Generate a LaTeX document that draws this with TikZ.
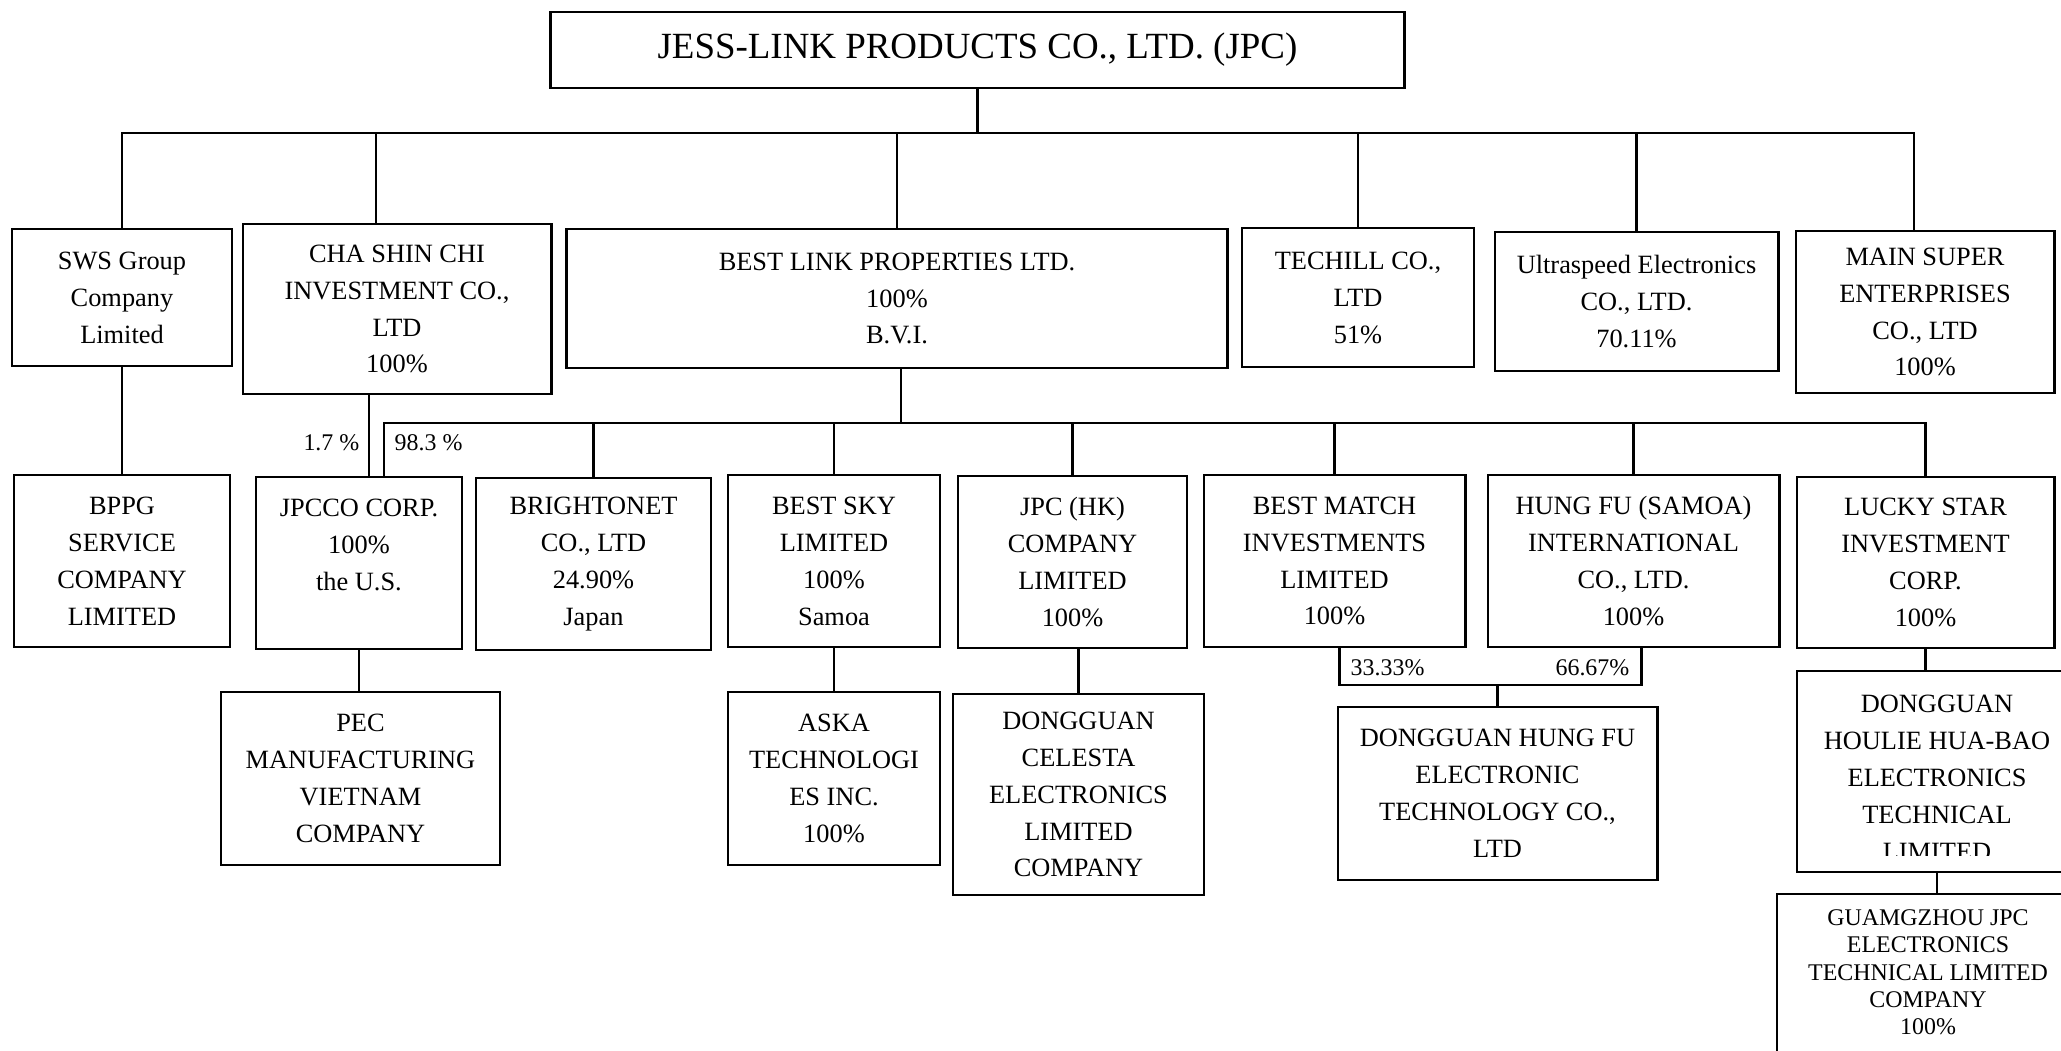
\documentclass[tikz,border=0pt]{standalone}
\usepackage{fontspec}
\setmainfont{Liberation Serif}
\usetikzlibrary{calc, positioning}

\begin{document}
\begin{tikzpicture}[
    x=0.01cm, y=-0.01cm,
    % Styles for the group chart
    firm/.style={draw=black, line width=0.8pt, inner sep=0pt, outer sep=0pt, align=center, font=\fontsize{7.5}{10.5}\selectfont},
    share/.style={inner sep=0pt, font=\fontsize{6.8}{8}\selectfont},
    link/.style={draw=black, line width=0.6pt}
]
    \useasboundingbox (0,0) rectangle (2061,1050);
    \clip (0,0) rectangle (2061,1050);

    % 1. The parent company
    \node[firm, minimum width=8.53cm, minimum height=0.76cm, font=\fontsize{10.5}{12}\selectfont] (jpc) at (977.5,50) {JESS-LINK PRODUCTS CO., LTD. (JPC)};

    % 2. First level subsidiaries
    \node[firm, minimum width=2.2cm, minimum height=1.37cm] (sws) at (122,297.5) {SWS Group\\Company\\Limited};
    \node[firm, minimum width=3.08cm, minimum height=1.70cm] (cha) at (397,309) {CHA SHIN CHI\\INVESTMENT CO.,\\LTD\\100\%};
    \node[firm, minimum width=6.60cm, minimum height=1.39cm] (bestlink) at (897,298.5) {BEST LINK PROPERTIES LTD.\\100\%\\B.V.I.};
    \node[firm, minimum width=2.32cm, minimum height=1.39cm] (techill) at (1358,297.5) {TECHILL CO.,\\LTD\\51\%};
    \node[firm, minimum width=2.83cm, minimum height=1.39cm] (ultra) at (1636.5,301.5) {Ultraspeed Electronics\\CO., LTD.\\70.11\%};
    \node[firm, minimum width=2.58cm, minimum height=1.62cm] (main) at (1925,312) {MAIN SUPER\\ENTERPRISES\\CO., LTD\\100\%};

    % 3. Second level
    \node[firm, minimum width=2.16cm, minimum height=1.72cm] (bppg) at (122,561) {BPPG\\SERVICE\\COMPANY\\LIMITED};
    \node[firm, minimum width=2.06cm, minimum height=1.72cm] (jpcco) at (359,563) {JPCCO CORP.\\100\%\\the U.S.\\~};
    \node[firm, minimum width=2.35cm, minimum height=1.72cm] (brightonet) at (593.5,564) {BRIGHTONET\\CO., LTD\\24.90\%\\Japan};
    \node[firm, minimum width=2.12cm, minimum height=1.72cm] (bestsky) at (834,561) {BEST SKY\\LIMITED\\100\%\\Samoa};
    \node[firm, minimum width=2.29cm, minimum height=1.72cm] (jpchk) at (1072.5,562) {JPC (HK)\\COMPANY\\LIMITED\\100\%};
    \node[firm, minimum width=2.61cm, minimum height=1.72cm] (bestmatch) at (1334.5,561) {BEST MATCH\\INVESTMENTS\\LIMITED\\100\%};
    \node[firm, minimum width=2.91cm, minimum height=1.72cm] (hungfu) at (1633.5,561) {HUNG FU (SAMOA)\\INTERNATIONAL\\CO., LTD.\\100\%};
    \node[firm, minimum width=2.57cm, minimum height=1.71cm] (lucky) at (1925.5,562.5) {LUCKY STAR\\INVESTMENT\\CORP.\\100\%};

    % 4. Third level
    \node[firm, minimum width=2.79cm, minimum height=1.73cm] (pec) at (360.5,778.5) {PEC\\MANUFACTURING\\VIETNAM\\COMPANY};
    \node[firm, minimum width=2.12cm, minimum height=1.73cm] (aska) at (834,778.5) {ASKA\\TECHNOLOGI\\ES INC.\\100\%};
    \node[firm, minimum width=2.51cm, minimum height=2.01cm] (celesta) at (1078.5,794.5) {DONGGUAN\\CELESTA\\ELECTRONICS\\LIMITED\\COMPANY};
    \node[firm, minimum width=3.19cm, minimum height=1.73cm] (dghf) at (1497.5,793.5) {DONGGUAN HUNG FU\\ELECTRONIC\\TECHNOLOGY CO.,\\LTD};
    \node[firm, minimum width=2.80cm, minimum height=2.01cm] (houlie) at (1937,771.5) {};
    \begin{scope}
        \clip (1797,671) rectangle (2077,855);
        \node[firm, draw=none] (houlietext) at ($(houlie.center)+(0,6)$) {DONGGUAN\\HOULIE HUA-BAO\\ELECTRONICS\\TECHNICAL\\LIMITED};
    \end{scope}
    \node[firm, anchor=north, minimum width=3.02cm, inner ysep=0.16cm, font=\fontsize{6.8}{7.7}\selectfont] (guam) at (1928,894) {GUAMGZHOU JPC\\ELECTRONICS\\TECHNICAL LIMITED\\COMPANY\\100\%\\~\\~};

    % 5. Shareholding labels
    \node[share, anchor=east] (p17) at (360,443) {1.7 \%};
    \node[share, anchor=west] (p983) at (394,443) {98.3 \%};
    \node[share, anchor=west] (p3333) at (1350,668) {33.33\%};
    \node[share, anchor=east] (p6667) at (1630,668) {66.67\%};

    % 6. Connectors
    \coordinate (bus1) at ($(jpc.south)+(0,45)$);
    \draw[link] (jpc.south) -- (bus1);
    \foreach \kid in {sws, bestlink, techill, ultra} {
        \draw[link] (\kid.north) |- (bus1);
    }
    \draw[link] ($(cha.north)+(-21,0)$) |- (bus1);
    \draw[link] ($(main.north)+(-11,0)$) |- (bus1);

    \coordinate (bus2) at ($(bestlink.south)+(4,55)$);
    \draw[link] (bestlink.south -| bus2) -- (bus2);
    \foreach \kid in {brightonet, bestsky, jpchk, bestmatch, hungfu, lucky} {
        \draw[link] (\kid.north) |- (bus2);
    }
    \coordinate (c983) at ($(jpcco.north)+(25,0)$);
    \draw[link] (c983) |- (bus2);
    \coordinate (c17) at ($(jpcco.north)+(10,0)$);
    \draw[link] (cha.south -| c17) -- (c17);
    \draw[link] (sws.south) -- (bppg.north);

    \draw[link] (jpcco.south) -- (jpcco.south |- pec.north);
    \draw[link] (bestsky.south) -- (aska.north);
    \draw[link] (celesta.north |- jpchk.south) -- (celesta.north);
    \draw[link] (lucky.south) -- (lucky.south |- houlie.north);
    \draw[link] (houlie.south) -- (houlie.south |- guam.north);

    % joint holding of Dongguan Hung Fu
    \coordinate (own) at ($(dghf.north)+(0,-22)$);
    \draw[link] (dghf.north) -- (own);
    \draw[link] ($(bestmatch.south)+(5,0)$) |- (own) -| ($(hungfu.south)+(8,0)$);

\end{tikzpicture}
\end{document}
